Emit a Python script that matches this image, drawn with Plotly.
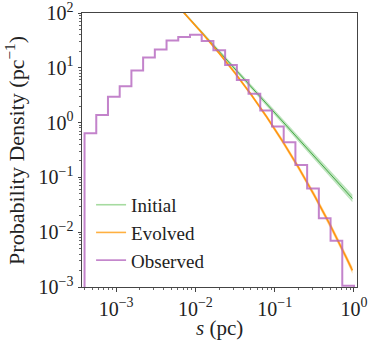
import numpy as np
import plotly.graph_objects as go

# ---- data ----
# Observed histogram: log-spaced bins from 4e-4 pc to 1 pc
obs_edges_lo = 4e-4
obs_edges_hi = 1.0
obs_values = [0.64, 1.38, 2.95, 4.6, 8.9, 15.4, 21.6, 31.5, 36.4, 40.0, 30.8, 21.0,
              11.3, 6.0, 3.35, 1.66, 0.845, 0.44, 0.169, 0.063, 0.0179, 0.0070, 0.00105]

# Model curves
s_model = [0.00501, 0.00794, 0.01259, 0.01995, 0.03162, 0.05012, 0.07943,
           0.1259, 0.1995, 0.3162, 0.5012, 0.7943, 0.955]
initial_pd = [179.9, 86.3, 41.3, 19.82, 9.51, 4.56, 2.188, 1.047, 0.502,
              0.241, 0.1156, 0.0555, 0.0413]
evolved_pd = [179.9, 86.3, 40.6, 18.49, 8.02, 3.29, 1.265, 0.455, 0.152,
              0.0471, 0.01343, 0.003516, 0.00201]
# band half-widths (dex)
initial_err = [0.02, 0.022, 0.025, 0.028, 0.032, 0.036, 0.041, 0.046, 0.051,
               0.056, 0.061, 0.066, 0.07]
evolved_err = [0.02, 0.022, 0.024, 0.027, 0.03, 0.034, 0.038, 0.042, 0.046,
               0.05, 0.054, 0.058, 0.06]

labels = ["Initial", "Evolved", "Observed"]
tick_vals_x = [1e-3, 1e-2, 1e-1, 1]
tick_text_x = ["10<sup>−3</sup>", "10<sup>−2</sup>", "10<sup>−1</sup>", "10<sup>0</sup>"]
tick_vals_y = [1e-3, 1e-2, 1e-1, 1, 10, 100]
tick_text_y = ["10<sup>−3</sup>", "10<sup>−2</sup>", "10<sup>−1</sup>", "10<sup>0</sup>",
               "10<sup>1</sup>", "10<sup>2</sup>"]
x_title = "<i>s</i> (pc)"
y_title = "Probability Density (pc<sup>−1</sup>)"

GREEN_LINE = "#45a845"
GREEN_BAND = "rgba(110,195,110,0.45)"
GREEN_LEG = "#a6dba0"
ORANGE_LINE = "#ff9410"
ORANGE_BAND = "rgba(255,175,50,0.55)"
ORANGE_LEG = "#ffb040"
PURPLE = "rgba(180,100,190,0.8)"
PURPLE_LEG = "#c07ec8"

FONT = "Liberation Serif"

fig = go.Figure()

def band(xs, ys, err, color):
    ys = np.array(ys)
    err = np.array(err)
    hi = ys * 10 ** err
    lo = ys / 10 ** err
    fig.add_trace(go.Scatter(x=xs, y=lo, mode="lines", line=dict(width=0),
                             showlegend=False, hoverinfo="skip"))
    fig.add_trace(go.Scatter(x=xs, y=hi, mode="lines", line=dict(width=0),
                             fill="tonexty", fillcolor=color,
                             showlegend=False, hoverinfo="skip"))

band(s_model, initial_pd, initial_err, GREEN_BAND)
fig.add_trace(go.Scatter(x=s_model, y=initial_pd, mode="lines",
                         line=dict(color=GREEN_LINE, width=1), showlegend=False))
band(s_model, evolved_pd, evolved_err, ORANGE_BAND)
fig.add_trace(go.Scatter(x=s_model, y=evolved_pd, mode="lines",
                         line=dict(color=ORANGE_LINE, width=1.5), showlegend=False))

# Observed step histogram
n = len(obs_values)
edges = np.logspace(np.log10(obs_edges_lo), np.log10(obs_edges_hi), n + 1)
hx = [edges[0]] + list(edges) + [edges[-1]]
hy = [1e-5] + list(obs_values) + [obs_values[-1], 1e-5]
fig.add_trace(go.Scatter(x=hx, y=hy, mode="lines", line_shape="hv",
                         line=dict(color=PURPLE, width=2), showlegend=False))

# legend entries
for lab, col in zip(labels, [GREEN_LEG, ORANGE_LEG, PURPLE_LEG]):
    fig.add_trace(go.Scatter(x=[None], y=[None], mode="lines", name=lab,
                             line=dict(color=col, width=1.6)))

axis_common = dict(
    type="log", showgrid=False, zeroline=False, showline=True, mirror=True,
    linecolor="#444", linewidth=1, ticks="outside", ticklen=3.5, tickwidth=1,
    tickcolor="#444", automargin=False, ticklabeloverflow="allow",
    tickfont=dict(family=FONT, size=20, color="#222"),
    minor=dict(ticks="outside", ticklen=2, tickwidth=0.8, tickcolor="#666", dtick="D1"),
)

fig.update_layout(
    width=374, height=340,
    margin=dict(l=82, r=17, t=13, b=53),
    paper_bgcolor="white", plot_bgcolor="white",
    font=dict(family=FONT, color="#222"),
    xaxis=dict(axis_common, range=[-3.43, 0.038],
               tickvals=tick_vals_x, ticktext=tick_text_x),
    yaxis=dict(axis_common, range=[-3, 2],
               tickvals=tick_vals_y, ticktext=tick_text_y),
    legend=dict(x=0.033, y=0.026, xanchor="left", yanchor="bottom",
                bgcolor="rgba(0,0,0,0)", font=dict(family=FONT, size=19),
                tracegroupgap=0, itemwidth=30, traceorder="normal"),
    annotations=[
        dict(text=x_title, xref="paper", yref="paper", x=0.5, y=-0.15,
             xanchor="center", yanchor="middle", showarrow=False,
             font=dict(family=FONT, size=21, color="#222")),
        dict(text=y_title, xref="paper", yref="paper", x=-0.244, y=0.5,
             xanchor="center", yanchor="middle", showarrow=False, textangle=-90,
             font=dict(family=FONT, size=22, color="#222")),
    ],
)

fig.write_html("out.html", config={"displayModeBar": False},
               post_script="document.body.style.margin='0';")
